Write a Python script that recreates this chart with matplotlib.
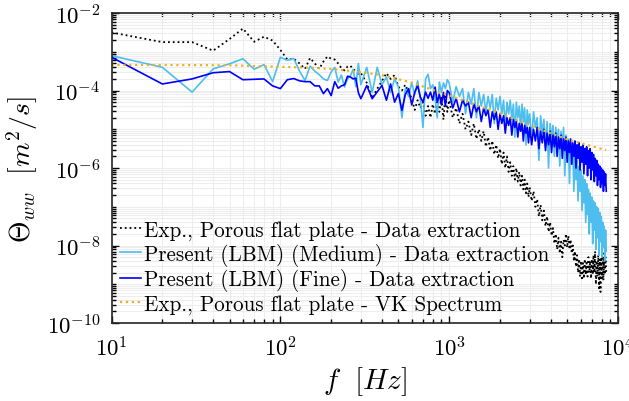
import numpy as np
import matplotlib
matplotlib.use("Agg")
import matplotlib.pyplot as plt
from matplotlib.ticker import LogLocator, FixedLocator, NullFormatter

# --- Configuracion de estilo (tipo LaTeX / MATLAB) ---
plt.rcParams['font.family'] = ['cmr10']
plt.rcParams['mathtext.fontset'] = 'cm'
plt.rcParams['axes.formatter.use_mathtext'] = True
plt.rcParams['axes.unicode_minus'] = True

# --- Datos ---
# rejilla de frecuencias [Hz]
f_grid = np.concatenate([[10, 20, 30, 40, 50, 60, 70, 80, 90],
                         np.arange(100, 300, 10),
                         np.arange(300, 1000, 25),
                         np.arange(1000, 3000, 50),
                         np.arange(3000, 8600, 80)])

# log10 del espectro - Exp., placa porosa (extraccion)
exp_log = [-2.50, -2.75, -2.75, -2.97, -2.67, -2.40, -2.74, -2.61, -2.71,
           -2.95, -3.20, -3.18, -3.30, -3.44, -3.16, -3.30, -3.44, -3.25, -3.12,
           -3.18, -3.20, -3.30, -3.42, -3.48, -3.38, -3.36, -3.45, -3.50, -3.57,
           -3.55, -3.80, -4.20, -3.95, -3.75, -3.55, -3.70, -3.60, -3.90, -4.00,
           -3.85, -4.05, -4.20, -4.50, -4.25, -4.45, -4.30, -4.65, -4.40, -4.70,
           -4.35, -4.60, -4.30, -4.55, -4.15, -4.75, -4.10, -4.55,
           -4.25, -4.70, -4.45, -4.85, -4.60, -5.00, -4.80, -5.15, -4.85, -5.25,
           -5.00, -5.30, -5.05, -5.45, -5.20, -5.55, -5.30, -5.65, -5.40, -5.75,
           -5.50, -5.90, -5.60, -6.00, -5.70, -6.10, -5.85, -6.20, -5.95, -6.30,
           -6.00, -6.35, -6.10, -6.45, -6.20, -6.55, -6.30, -6.65, -6.40, -6.75,
           -6.50, -6.85, -6.60, -7.00, -6.80, -7.25, -6.95, -7.35, -7.10, -7.50,
           -7.25, -7.65, -7.40, -7.75, -7.55, -7.95, -7.70, -8.10, -7.80, -8.20,
           -7.90, -8.30, -7.85, -8.00, -7.70, -8.05, -7.75, -8.10, -7.85, -8.20,
           -8.00, -8.40, -8.15, -8.55, -8.25, -8.70, -8.35, -8.80, -8.40, -8.90,
           -8.45, -8.85, -8.35, -8.75, -8.45, -8.80, -8.30, -8.70, -8.40, -8.85,
           -8.35, -8.75, -8.25, -8.70, -8.15, -9.00, -8.40, -8.80, -8.25, -9.10,
           -8.35, -9.20, -8.30, -8.85, -8.20, -8.90, -8.35, -8.75, -8.30, -8.70]

# log10 del espectro - LBM malla media
med_log = [-3.10, -3.40, -4.04, -3.44, -3.31, -3.18, -3.45, -3.33, -3.77,
           -3.14, -3.22, -3.17, -3.50, -3.74, -3.37, -3.50, -3.59, -3.70, -3.74,
           -3.52, -3.40, -3.78, -3.60, -3.91, -3.70, -3.62, -3.45, -3.90, -3.30,
           -3.85, -3.40, -4.05, -3.40, -3.85, -3.65, -4.05, -3.70, -3.90, -4.70,
           -3.95, -4.15, -3.80, -4.10, -3.75, -4.20, -4.95, -3.70, -3.58, -3.95,
           -3.85, -4.20, -4.70, -3.78, -4.05, -3.80, -3.95, -3.72,
           -3.80, -4.30, -3.90, -4.15, -3.95, -4.60, -4.05, -4.35, -3.95, -4.70,
           -4.05, -4.40, -4.10, -4.55, -4.15, -4.45, -4.10, -4.85, -4.20, -4.50,
           -4.15, -4.60, -4.25, -4.95, -4.30, -4.60, -4.25, -4.75, -4.35, -5.20,
           -4.30, -4.70, -4.40, -5.00, -4.35, -4.80, -4.45, -5.40, -4.50, -4.85,
           -4.60, -5.30, -4.55, -4.95, -4.70, -5.80, -4.65, -5.10, -4.75, -5.45,
           -4.80, -6.00, -4.85, -5.25, -4.90, -5.70, -4.95, -5.40, -5.00, -5.95,
           -5.05, -5.50, -4.95, -6.20, -5.15, -5.70, -5.25, -6.40, -5.35, -5.90,
           -5.45, -6.60, -5.60, -6.30, -5.80, -6.85, -5.95, -6.60, -6.05, -7.10,
           -6.20, -6.90, -6.30, -7.40, -6.40, -7.20, -6.55, -7.70, -6.65, -7.40,
           -6.75, -7.95, -6.85, -7.60, -6.90, -8.10, -7.00, -7.80, -7.05, -8.25,
           -7.15, -7.90, -7.25, -8.30, -7.40, -8.05, -7.50, -8.40, -7.60, -8.15]

# log10 del espectro - LBM malla fina
fine_log = [-3.14, -3.83, -3.70, -3.54, -3.51, -3.72, -3.71, -3.70, -3.88,
            -3.95, -3.72, -3.69, -3.75, -3.77, -3.77, -3.88, -3.88, -4.08, -3.95,
            -4.13, -3.77, -3.94, -3.88, -3.85, -3.63, -3.65, -3.70, -3.68, -4.06,
            -4.21, -3.87, -4.21, -4.03, -3.87, -4.25, -3.83, -4.30, -4.08, -4.51,
            -4.10, -3.95, -4.37, -4.05, -3.87, -4.17, -4.30, -4.04, -4.20, -4.04,
            -4.25, -3.91, -4.30, -4.10, -4.37, -4.05, -4.40, -4.00,
            -4.05, -4.45, -4.20, -4.55, -4.25, -4.40, -4.30, -4.70, -4.35, -4.55,
            -4.40, -4.80, -4.45, -4.65, -4.50, -4.95, -4.55, -4.75, -4.55, -5.00,
            -4.60, -4.85, -4.65, -5.10, -4.70, -4.90, -4.70, -5.15, -4.75, -4.95,
            -4.80, -5.20, -4.85, -5.05, -4.85, -5.30, -4.90, -5.10, -4.95, -5.35,
            -4.95, -5.40, -5.00, -5.30, -4.95, -5.50, -5.05, -5.35, -5.00, -5.55,
            -5.10, -5.40, -5.05, -5.60, -5.15, -5.45, -5.10, -5.70, -5.20, -5.50,
            -5.15, -5.75, -5.25, -5.55, -5.20, -5.85, -5.30, -5.60, -5.25, -5.90,
            -5.35, -5.70, -5.30, -6.00, -5.40, -5.75, -5.35, -6.05, -5.45, -5.85,
            -5.40, -6.15, -5.50, -5.90, -5.45, -6.20, -5.55, -6.00, -5.50, -6.30,
            -5.60, -6.05, -5.65, -6.35, -5.75, -6.20, -5.80, -6.45, -5.90, -6.30,
            -5.95, -6.50, -6.00, -6.40, -6.05, -6.60, -6.10, -6.45, -6.15, -6.60]

# espectro de von Karman (VK)
vk_f = [10, 50, 100, 150, 200, 300, 400, 600, 1000, 1500, 2000, 3100, 5000, 8500]
vk_val = [4.6e-4, 4.5e-4, 4.1e-4, 3.9e-4, 3.6e-4, 3.0e-4, 2.5e-4, 1.6e-4,
          7.5e-5, 4.0e-5, 2.6e-5, 1.2e-5, 5.5e-6, 2.9e-6]

labels = ['Exp., Porous flat plate - Data extraction',
          'Present (LBM) (Medium) - Data extraction',
          'Present (LBM) (Fine) - Data extraction',
          'Exp., Porous flat plate - VK Spectrum']

# --- Figura ---
fig = plt.figure(figsize=(6.29, 4.02), dpi=100)
ax = fig.add_axes([0.1773, 0.194, 0.8052, 0.771])

ax.loglog(f_grid, 10.0 ** np.array(exp_log), ':', color='black', lw=1.3, label=labels[0])
ax.loglog(f_grid, 10.0 ** np.array(med_log), '-', color='#4DBEEE', lw=1.2, label=labels[1])
ax.loglog(f_grid, 10.0 ** np.array(fine_log), '-', color='#0000FF', lw=1.2, label=labels[2])
ax.loglog(vk_f, vk_val, ':', color='#EDB120', lw=1.6, label=labels[3])

ax.set_xlim(10, 1e4)
ax.set_ylim(1e-10, 1e-2)

ax.yaxis.set_major_locator(FixedLocator([1e-10, 1e-8, 1e-6, 1e-4, 1e-2]))
ax.yaxis.set_minor_locator(LogLocator(base=10, subs=np.arange(1, 10), numticks=40))
ax.yaxis.set_minor_formatter(NullFormatter())
ax.xaxis.set_minor_locator(LogLocator(base=10, subs=np.arange(2, 10), numticks=20))
ax.xaxis.set_minor_formatter(NullFormatter())

ax.grid(True, which='both', color='#ededed', lw=0.8)
ax.set_axisbelow(True)

ax.tick_params(which='both', direction='in', top=True, right=True, labelsize=16.5, width=1.0)
ax.tick_params(which='major', length=5)
ax.tick_params(which='minor', length=3)
ax.tick_params(axis='y', which='major', pad=8)
ax.tick_params(axis='x', which='major', pad=9)
for s in ax.spines.values():
    s.set_linewidth(1.2)
    s.set_color('#262626')

ax.set_xlabel(r'$f\ \ [Hz]$', fontsize=21, labelpad=3)
ax.set_ylabel(r'$\Theta_{ww}\ \ [m^2/s]$', fontsize=20, labelpad=5)

leg = ax.legend(loc='lower left', bbox_to_anchor=(0.017, 0.03), frameon=False,
                fontsize=15.2, handlelength=1.0, handletextpad=0.15,
                labelspacing=0.12, borderpad=0, borderaxespad=0)

fig.savefig('out.png', dpi=100)
